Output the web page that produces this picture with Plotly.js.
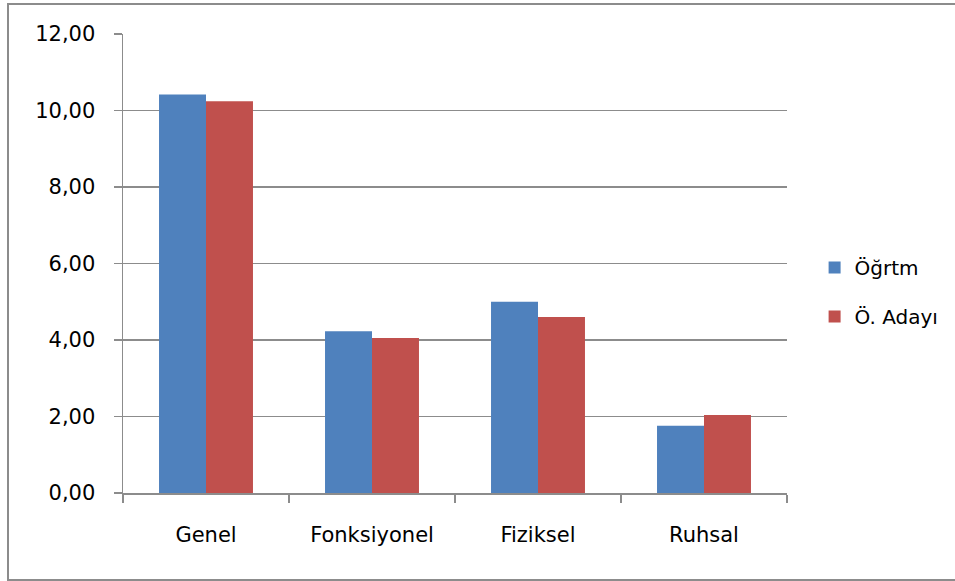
<!DOCTYPE html>
<html>
<head>
<meta charset="utf-8">
<script src="https://cdn.plot.ly/plotly-3.0.1.min.js"></script>
<style>
  html, body { margin: 0; padding: 0; background: #fff; overflow: hidden; }
  #chart { width: 955px; height: 581px; }
  #frame { position: absolute; left: 7px; top: 3px; width: 980px; height: 574px;
           border: 2px solid #8c8c8c; pointer-events: none; }
</style>
</head>
<body>
<div id="chart"></div>
<div id="frame"></div>
<script>
const categories = ["Genel", "Fonksiyonel", "Fiziksel", "Ruhsal"];
const seriesNames = ["Öğrtm", "Ö. Adayı"];
const ogrtmValues = [10.42, 4.23, 5.00, 1.76];
const adayValues = [10.24, 4.05, 4.60, 2.04];
const yTickVals = [0, 2, 4, 6, 8, 10, 12];
const yTickText = ["0,00", "2,00", "4,00", "6,00", "8,00", "10,00", "12,00"];

const font = { family: "DejaVu Sans, sans-serif", size: 21, color: "#000" };

const traces = [
  { type: "bar", name: seriesNames[0], x: categories, y: ogrtmValues,
    marker: { color: "#4F81BD" }, legendgroup: "a", hoverinfo: "skip" },
  { type: "bar", name: seriesNames[1], x: categories, y: adayValues,
    marker: { color: "#C0504D" }, legendgroup: "b", hoverinfo: "skip" }
];

const layout = {
  width: 955, height: 581,
  margin: { l: 123, r: 167, t: 34, b: 88 },
  paper_bgcolor: "#fff", plot_bgcolor: "#fff",
  font: font,
  barmode: "group", bargap: 0.434, bargroupgap: 0,
  showlegend: true,
  legend: {
    x: 1.04, xanchor: "left", y: 0.438, yanchor: "middle",
    traceorder: "grouped", tracegroupgap: 20,
    font: { family: "DejaVu Sans, sans-serif", size: 20, color: "#000" },
    itemwidth: 30, borderwidth: 0
  },
  xaxis: {
    type: "category", tickson: "boundaries", ticks: "outside", ticklen: 8,
    tickcolor: "#8c8c8c", tickwidth: 1.5,
    showline: true, linecolor: "#8c8c8c", linewidth: 1.5,
    showgrid: false, ticklabelstandoff: 22, tickfont: font
  },
  yaxis: {
    range: [0, 12], tickvals: yTickVals, ticktext: yTickText,
    ticks: "outside", ticklen: 8, tickcolor: "#8c8c8c", tickwidth: 1.5,
    showline: true, linecolor: "#8c8c8c", linewidth: 1.5,
    showgrid: true, gridcolor: "#8c8c8c", gridwidth: 1.2,
    zeroline: false, ticklabelstandoff: 14, tickfont: font
  }
};

Plotly.newPlot("chart", traces, layout, { staticPlot: true, displayModeBar: false });
</script>
</body>
</html>
